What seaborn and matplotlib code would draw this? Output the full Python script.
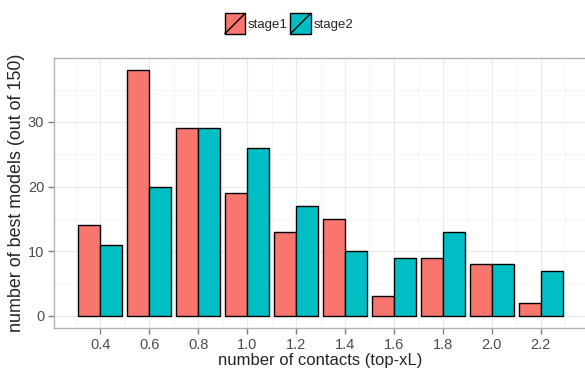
import numpy as np
import pandas as pd
import matplotlib
matplotlib.use("Agg")
import matplotlib.pyplot as plt
import seaborn as sns
from matplotlib.patches import Rectangle
from matplotlib.lines import Line2D
from matplotlib.legend_handler import HandlerBase

# veriler
contacts = ["0.4", "0.6", "0.8", "1.0", "1.2", "1.4", "1.6", "1.8", "2.0", "2.2"]
stage1 = [14, 38, 29, 19, 13, 15, 3, 9, 8, 2]
stage2 = [11, 20, 29, 26, 17, 10, 9, 13, 8, 7]
stages = ["stage1", "stage2"]
colors = ["#F8766D", "#00BFC4"]

df = pd.DataFrame({
    "contacts": contacts * 2,
    "count": stage1 + stage2,
    "stage": ["stage1"] * len(contacts) + ["stage2"] * len(contacts),
})

sns.set_style("white")
plt.rcParams["font.family"] = ["Liberation Sans", "DejaVu Sans"]

fig = plt.figure(figsize=(5.85, 3.68), dpi=100)
ax = fig.add_axes([54 / 585, 40 / 368, 533 / 585, 270 / 368])

sns.barplot(data=df, x="contacts", y="count", hue="stage", order=contacts,
            hue_order=stages, palette=colors, width=0.9, edgecolor="black",
            linewidth=1.0, saturation=1, ax=ax, legend=False, zorder=3)

# ggplot theme_bw gibi grid
ax.set_xlim(-0.945, 9.945)
ax.set_ylim(-1.9, 39.9)
ax.set_yticks([0, 10, 20, 30])
ax.set_yticks([5, 15, 25, 35], minor=True)
ax.set_xticks(np.arange(-0.5, 10, 1), minor=True)
ax.grid(True, which="major", color="#EBEBEB", lw=0.8, zorder=0)
ax.grid(True, which="minor", color="#F5F5F5", lw=0.6, zorder=0)
ax.set_axisbelow(True)
for s in ax.spines.values():
    s.set_color("#B3B3B3")
    s.set_linewidth(1.0)

ax.tick_params(which="major", length=4, width=1, color="#7F7F7F",
               labelcolor="#4D4D4D", labelsize=10.5, pad=3, bottom=True, left=True)
ax.tick_params(which="minor", length=0)

ax.set_xlabel("number of contacts (top-xL)", fontsize=12, labelpad=1)
ax.set_ylabel("number of best models (out of 150)", fontsize=12.9, labelpad=2)


class SlashHandler(HandlerBase):
    # kare kutu + çapraz çizgi (ggplot legend key)
    def create_artists(self, legend, orig, xd, yd, w, h, fontsize, trans):
        s = 1.55 * fontsize
        cx = -xd + w / 2
        cy = -yd + h / 2
        x0, y0 = cx - s / 2, cy - s / 2
        r = Rectangle((x0, y0), s, s, facecolor=orig.get_facecolor(),
                      edgecolor="black", lw=1, transform=trans)
        l = Line2D([x0, x0 + s], [y0, y0 + s], color="black", lw=1, transform=trans)
        return [r, l]


handles = [Rectangle((0, 0), 1, 1, facecolor=c) for c in colors]
fig.legend(handles, stages, loc="center", bbox_to_anchor=(289 / 585, 1 - 25 / 368),
           ncol=2, frameon=False, fontsize=9.5, handlelength=1.55, handleheight=0.7,
           handletextpad=0.2, columnspacing=0.2,
           handler_map={Rectangle: SlashHandler()})

plt.savefig("out.png", dpi=100)
